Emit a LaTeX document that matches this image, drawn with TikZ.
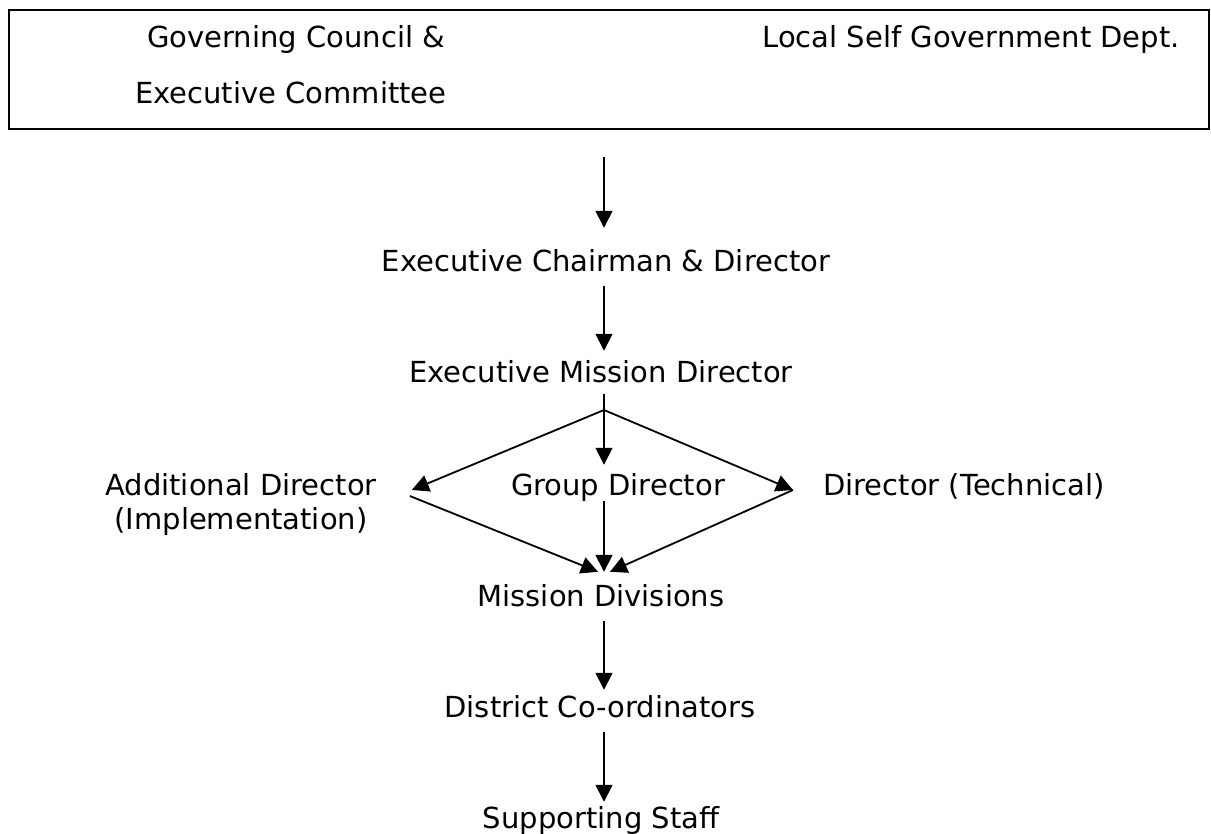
\documentclass[tikz,border=0pt]{standalone}
\usepackage{fontspec}
\setmainfont{DejaVu Sans}
\usetikzlibrary{arrows.meta,positioning}

\begin{document}
\begin{tikzpicture}[x=1pt, y=-1pt,
    lbl/.style={inner sep=0pt, font=\fontsize{29}{34.5}\selectfont},
    arr/.style={-{Triangle[width=17pt,length=17pt]}, line width=1.8pt}]
    \useasboundingbox (0,0) rectangle (1211,834);

    \node[draw, line width=1.8pt, minimum width=1200pt, minimum height=119pt] (council) at (609,69.5) {};
    \node[lbl, anchor=base west] (gc) at (147,48) {Governing Council \&};
    \node[lbl, anchor=base west] (ec) at (135,104) {Executive Committee};
    \node[lbl, anchor=base east] (lsg) at (1180,48) {Local Self Government Dept.};

    \coordinate (top) at (604,157);
    \coordinate (split) at (604,410);

    \node[lbl, anchor=base] (ecd) at (606,272) {Executive Chairman \& Director};
    \node[lbl, anchor=base] (emd) at (601,383) {Executive Mission Director};
    \node[lbl, anchor=base, align=center] (ad) at (241,529.5) {Additional Director\\(Implementation)};
    \node[lbl, anchor=base] (gd) at (618,495) {Group Director};
    \node[lbl, anchor=base west] (dt) at (823,495) {Director (Technical)};
    \node[lbl, anchor=base] (md) at (601,606) {Mission Divisions};
    \node[lbl, anchor=base] (dc) at (600,717) {District Co-ordinators};
    \node[lbl, anchor=base] (ss) at (601,828) {Supporting Staff};

    \draw[arr, shorten >=22pt] (top) -- (top |- ecd.north);
    \draw[arr, shorten <=13pt, shorten >=10pt] (ecd.south -| top) -- (emd.north -| top);
    \draw[arr, shorten <=10pt, shorten >=8pt] (emd.south -| top) -- (gd.north -| top);

    % branches
    \draw[arr] (split) -- ([xshift=35pt,yshift=5pt]ad.east |- gd.base);
    \draw[arr] (split) -- ([xshift=-30pt,yshift=5pt]dt.base west);
    \draw[arr] ([xshift=33pt,yshift=-1pt]ad.east |- gd.base) -- ([xshift=-3pt,yshift=12pt]md.north);
    \draw[arr] ([xshift=-30pt,yshift=5pt]dt.base west) -- ([xshift=9pt,yshift=12pt]md.north);
    \draw[arr, shorten >=12pt] (gd.south -| top) -- (md.north -| top);

    \draw[arr, shorten <=14pt, shorten >=5pt] (md.south -| top) -- (dc.north -| top);
    \draw[arr, shorten <=14pt, shorten >=4pt] (dc.south -| top) -- (ss.north -| top);
\end{tikzpicture}
\end{document}
